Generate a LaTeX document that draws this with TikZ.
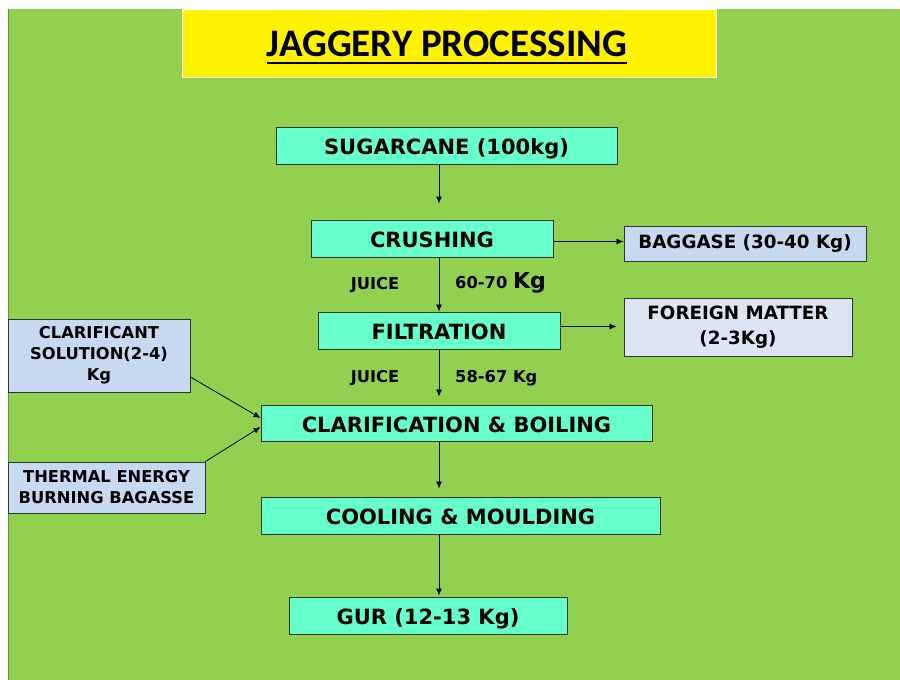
\documentclass[tikz,border=0pt]{standalone}
\usepackage{fontspec}
\setmainfont{DejaVu Sans}
\newfontfamily\titlefont{Carlito}
\usetikzlibrary{arrows.meta}
\definecolor{slidegreen}{HTML}{92D050}
\definecolor{edgegreen}{HTML}{6B8E3A}
\definecolor{boxaqua}{HTML}{66FFCC}
\definecolor{boxblue}{HTML}{C6D9F1}
\definecolor{boxpale}{HTML}{DCE6F2}

\begin{document}
\begin{tikzpicture}[x=1pt, y=-1pt,
    procbox/.style={draw=black!80, line width=0.9pt, fill=boxaqua, inner sep=0pt,
      text height=18.3pt, text depth=0pt, font=\fontsize{21}{24}\selectfont\bfseries},
    sidebox/.style={draw=black!80, line width=0.9pt, fill=boxblue, inner sep=0pt,
      align=center, font=\fontsize{16.3}{21}\selectfont\bfseries},
    palebox/.style={sidebox, fill=boxpale, font=\fontsize{18.3}{25}\selectfont\bfseries},
    lbl/.style={inner sep=0pt, font=\fontsize{16.3}{18}\selectfont\bfseries},
    flow/.style={-{Latex[length=7pt,width=6pt]}, line width=0.8pt}]
  \useasboundingbox (0,0) rectangle (900,680);
  % slide background
  \fill[white] (0,0) rectangle (900,680);
  \fill[slidegreen] (8,9) rectangle (900,680);
  \draw[edgegreen, line width=1pt] (8,9) -- (8,680);

  % title
  \node[draw=white, line width=0.8pt, fill=yellow, minimum width=534pt, minimum height=68pt] (titlebox) at (449,43) {};
  \node[anchor=base, inner sep=0pt, font=\fontsize{39}{44}\selectfont\titlefont\bfseries] (title) at (447,56)
    {JAGGERY PROCESSING};
  \draw[line width=1.8pt] ([yshift=-7pt]title.base west) -- ([yshift=-7pt]title.base east);

  % main line
  \coordinate (axis) at (439,0);
  \node[procbox, minimum width=341pt, minimum height=37pt] (cane) at (446.5,145.5) {SUGARCANE (100kg)};
  \node[procbox, minimum width=242pt, minimum height=37pt] (crush) at (432,238.5) {CRUSHING};
  \node[procbox, minimum width=242pt, minimum height=37pt] (filter) at (439,330.5) {FILTRATION};
  \node[procbox, minimum width=391pt, minimum height=36pt] (clarify) at (456.5,423) {CLARIFICATION \& BOILING};
  \node[procbox, minimum width=399pt, minimum height=37pt] (cool) at (460.5,515.5) {COOLING \& MOULDING};
  \node[procbox, minimum width=278pt, minimum height=37pt] (gur) at (428,615.5) {GUR (12-13 Kg)};

  % by-products
  \node[palebox, fill=boxblue, minimum width=242pt, minimum height=35pt] (bagasse) at (745,243.5) {BAGGASE (30-40 Kg)};
  \node[palebox, minimum width=228pt, minimum height=58pt] (foreign) at (738,327) {FOREIGN MATTER\\(2-3Kg)};

  % inputs
  \node[sidebox, minimum width=182pt, minimum height=73pt] (clarifier) at (99,355.5) {CLARIFICANT\\SOLUTION(2-4)\\Kg};
  \node[sidebox, minimum width=197pt, minimum height=51pt] (thermal) at (106.5,487.5) {THERMAL ENERGY\\BURNING BAGASSE};

  % juice labels
  \node[lbl] (juice1) at (375,285) {JUICE};
  \node[lbl, anchor=west] (qty1) at (455,283) {60-70 {\fontsize{22}{24}\selectfont Kg}};
  \node[lbl] (juice2) at (375,378) {JUICE};
  \node[lbl, anchor=west] (qty2) at (455,378) {58-67 Kg};

  % arrows
  \coordinate (bagout) at ([yshift=-3pt]crush.east);
  \coordinate (dirtout) at ([yshift=4pt]filter.east);
  \draw[flow, shorten >=16pt] (cane.south -| axis) -- (crush.north -| axis);
  \draw[flow] (crush.south -| axis) -- (filter.north -| axis);
  \draw[flow, shorten >=8pt] (filter.south -| axis) -- (clarify.north -| axis);
  \draw[flow, shorten >=8pt] (clarify.south -| axis) -- (cool.north -| axis);
  \draw[flow, shorten >=1pt] (cool.south -| axis) -- (gur.north -| axis);
  \draw[flow] (bagout) -- (bagout -| bagasse.west);
  \draw[flow, shorten >=7pt] (dirtout) -- (dirtout -| foreign.west);
  \draw[flow] ([yshift=-21.5pt]clarifier.east) -- ([yshift=5pt]clarify.west);
  \draw[flow] (thermal.north east) -- ([yshift=-4pt]clarify.west);
\end{tikzpicture}
\end{document}
